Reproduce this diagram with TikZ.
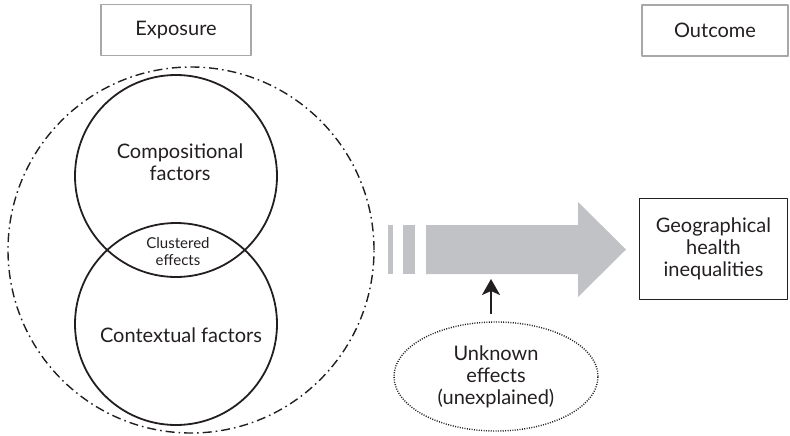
\documentclass[tikz,border=0pt]{standalone}
\usepackage{fontspec}
\setmainfont{Lato}
\usetikzlibrary{arrows.meta,shapes.geometric}
\definecolor{arrowgray}{HTML}{C1C2C5}
\definecolor{boxgray}{HTML}{A8A8A8}
\definecolor{ink}{HTML}{231F20}
\begin{document}
\begin{tikzpicture}[>={Stealth[length=8pt,width=9pt,inset=2pt]},line join=round,x=0.5pt,y=0.5pt,
	font=\fontsize{10}{11}\selectfont,text=ink,
	headbox/.style={draw=boxgray,line width=0.7pt,minimum width=75pt,minimum height=25.5pt,inner sep=0pt},
	factor/.style={circle,draw=ink,line width=0.9pt,minimum size=101pt,inner sep=0pt},
	dashdot/.style={dash pattern=on 4.5pt off 2pt on 0.8pt off 2pt}]
	\useasboundingbox (0,0) rectangle (790,435);
	% Header boxes
	\node[headbox] (exposure) at (176,405) {Exposure};
	\node[headbox,minimum width=73pt] (outcome) at (715,404.5) {Outcome};
	
	% Outer dash-dot circle
	\node[circle,draw=ink,line width=0.7pt,dashdot,minimum size=183pt] (area) at (191,185) {};
	
	% Two overlapping circles
	\node[factor] (comp) at (176,259) {};
	\node[factor] (cont) at (176,111) {};
	\node[align=center] (comptext) at (180,273) {Compositional\\factors};
	\node (conttext) at (181,100) {Contextual factors};
	\node[align=center,font=\fontsize{7.5}{8.5}\selectfont] (cluster) at (178,183) {Clustered\\effects};
	
	% Broad gray arrow with stripes
	\foreach \a/\b in {388/393,403/415}
	\fill[arrowgray] (\a,161) rectangle (\b,210);
	\fill[arrowgray] (426,161) -- (426,210) -- (578,210) -- (578,233) -- (626,185.5) -- (578,138) -- (578,161) -- cycle;
	\coordinate (hit) at (491,161);
	
	% Outcome box
	\node[draw=ink,line width=0.75pt,minimum width=74pt,minimum height=50.5pt,align=center,inner sep=0pt] (geo) at (713.5,186) {Geographical\\health\\inequalities};
	
	% Unknown effects
	\node[ellipse,draw=ink,line width=0.7pt,dash pattern=on 0.5pt off 0.7pt,minimum width=102pt,minimum height=54.5pt,inner sep=0pt,align=center] (unknown) at (496,58.5) {Unknown\\effects\\(unexplained)};
	\draw[->,line width=1pt,ink,shorten <=3.5pt,shorten >=2.5pt] (hit |- unknown.north) -- (hit);
\end{tikzpicture}
\end{document}
